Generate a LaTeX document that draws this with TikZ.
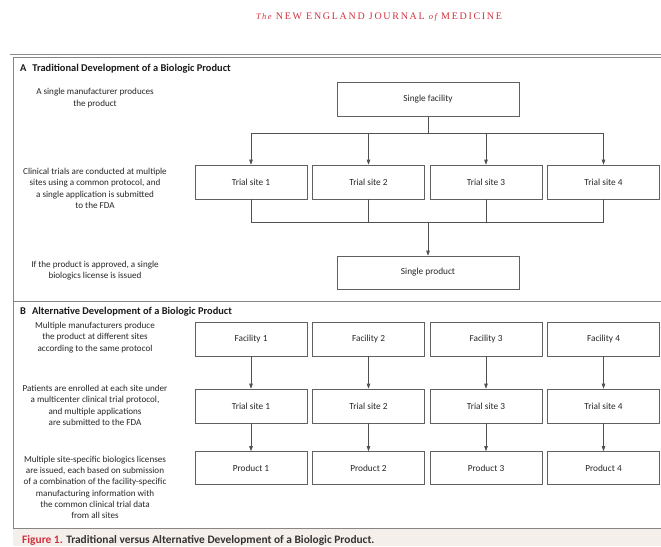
\documentclass[tikz,border=0pt]{standalone}
\usepackage{fontspec}
\setmainfont{Carlito}
\newfontfamily\journalfont{Liberation Serif}
\usetikzlibrary{arrows.meta}
\definecolor{linegray}{HTML}{505050}
\definecolor{boxgray}{HTML}{606060}
\definecolor{framegray}{HTML}{858585}
\definecolor{txtgray}{HTML}{262626}
\definecolor{nejmred}{HTML}{D0313D}
\definecolor{band}{HTML}{F4EFEA}
\begin{document}
\begin{tikzpicture}[x=1pt,y=-1pt,
  stagebox/.style={draw=boxgray, line width=0.6pt, minimum width=112pt, minimum height=34pt, inner sep=0pt, font=\fontsize{9.3}{11}\selectfont, text=txtgray},
  widebox/.style={stagebox, minimum width=182pt},
  note/.style={align=center, font=\fontsize{9.1}{11.3}\selectfont, text=txtgray, inner sep=0pt},
  heading/.style={anchor=west, font=\bfseries\fontsize{10.4}{12}\selectfont, text=black!90, inner sep=0pt},
  conn/.style={draw=linegray, line width=0.6pt},
  arr/.style={conn, -{Triangle[length=5pt,width=3.5pt]}},
  frame/.style={draw=framegray, line width=0.9pt}]
\useasboundingbox (0,0) rectangle (661,546);

% journal header
\node[font=\journalfont\fontsize{10}{12}\selectfont\addfontfeature{LetterSpace=17}, text=nejmred, inner sep=0pt] (jh) at (379,17) {{\itshape\fontsize{8.5}{10}\selectfont The} NEW ENGLAND JOURNAL {\itshape\fontsize{8.5}{10}\selectfont of} MEDICINE};

% frame
\fill[band] (13,528) rectangle (661,546);
\draw[frame, draw=gray!90] (10,54) -- (661,54);
\draw[frame] (13,57) -- (661,57);
\draw[frame] (13,57) -- (13,528);
\draw[frame] (13,301) -- (661,301);
\draw[frame, draw=gray!95] (13,528) -- (661,528);

% headings
\node[heading] (ha) at (20,69) {A\hspace{6pt}Traditional Development of a Biologic Product};
\node[heading] (hb) at (20,312) {B\hspace{6pt}Alternative Development of a Biologic Product};

% left notes
\node[note] (na1) at (95,98) {A single manufacturer produces\\the product};
\node[note] (na2) at (95,188.5) {Clinical trials are conducted at multiple\\sites using a common protocol, and\\a single application is submitted\\to the FDA};
\node[note] (na3) at (95,270.5) {If the product is approved, a single\\biologics license is issued};
\node[note] (nb1) at (95,337.5) {Multiple manufacturers produce\\the product at different sites\\according to the same protocol};
\node[note] (nb2) at (95,405.5) {Patients are enrolled at each site under\\a multicenter clinical trial protocol,\\and multiple applications\\are submitted to the FDA};
\node[note] (nb3) at (95,487.5) {Multiple site-specific biologics licenses\\are issued, each based on submission\\of a combination of the facility-specific\\manufacturing information with\\the common clinical trial data\\from all sites};

% panel A
\node[widebox] (sf) at (428,99.5) {Single facility};
\node[stagebox] (ta1) at (251,182) {Trial site 1};
\node[stagebox] (ta2) at (368.5,182) {Trial site 2};
\node[stagebox] (ta3) at (486,182) {Trial site 3};
\node[stagebox] (ta4) at (603.5,182) {Trial site 4};
\node[widebox, minimum height=33pt] (sp) at (428,272.5) {Single product};
\coordinate (busa) at (428,133);
\coordinate (busb) at (428,222);
\draw[conn] (sf.south) -- (busa);
\draw[conn] (ta1.north |- busa) -- (ta4.north |- busa);
\foreach \t in {ta1,ta2,ta3,ta4} {
  \draw[arr] (\t.north |- busa) -- (\t.north);
  \draw[conn] (\t.south) -- (\t.south |- busb);
}
\draw[conn] (ta1.south |- busb) -- (ta4.south |- busb);
\draw[arr] (busb) -- (sp.north);

% panel B
\foreach \i/\x in {1/251,2/368.5,3/486,4/603.5} {
  \node[stagebox] (f\i) at (\x,339) {Facility \i};
  \node[stagebox] (tb\i) at (\x,406) {Trial site \i};
  \node[stagebox, minimum height=33pt] (p\i) at (\x,468) {Product \i};
  \draw[arr] (f\i.south) -- (tb\i.north);
  \draw[arr] (tb\i.south) -- (p\i.north);
}

% caption
\node[anchor=west, inner sep=0pt, font=\bfseries\fontsize{11.4}{13}\selectfont, text=black!80] (cap) at (22,540.5) {\textcolor{nejmred}{Figure 1.} Traditional versus Alternative Development of a Biologic Product.};
\end{tikzpicture}
\end{document}
